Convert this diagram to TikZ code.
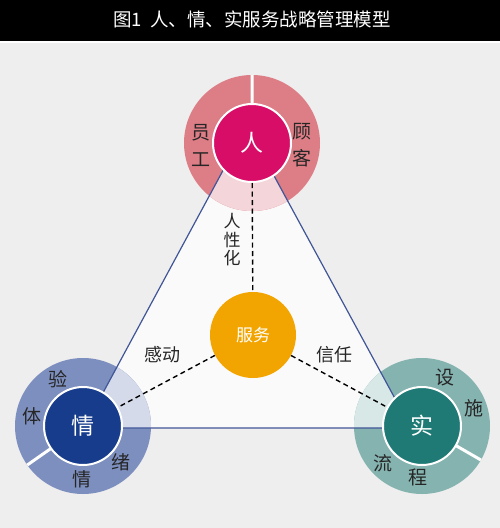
\documentclass[tikz,border=0pt]{standalone}
\usepackage{fontspec}
\setmainfont{Noto Sans CJK SC}
\usetikzlibrary{positioning}
\definecolor{bggray}{HTML}{EEEEEE}
\definecolor{trifill}{HTML}{FAFAFA}
\definecolor{triline}{HTML}{3F5597}
\definecolor{renmain}{HTML}{D80D68}
\definecolor{rendark}{HTML}{DD7D86}
\definecolor{renlight}{HTML}{F4D5D9}
\definecolor{qingmain}{HTML}{173C8C}
\definecolor{qingdark}{HTML}{7D8FBE}
\definecolor{qinglight}{HTML}{D4DAE9}
\definecolor{shimain}{HTML}{1F7A75}
\definecolor{shidark}{HTML}{85B3B0}
\definecolor{shilight}{HTML}{D8E8E7}
\definecolor{fuwuorange}{HTML}{F2A500}
\begin{document}
\begin{tikzpicture}[x=1pt,y=-1pt,
hub/.style={
% inner disc:
circle,draw=white,line width=2pt,
minimum size=78pt,inner sep=0pt,
text=white,font=\fontsize{23}{23}\selectfont
},
ringtxt/.style={font=\fontsize{19}{27}\selectfont,text=black!85,align=center},
side/.style={draw=triline,line width=1.2pt},
link/.style={line width=1.4pt,dash pattern=on 5pt off 3.5pt}
]
\useasboundingbox (0,0) rectangle (500,528);
\fill[bggray] (0,0) rectangle (500,528);
\fill[black] (0,0) rectangle (500,41);
\fill[white] (0,41) rectangle (500,43);
\node[text=white,font=\fontsize{18.5}{18.5}\selectfont] (title) at (252,19) {图1\ \ 人、情、实服务战略管理模型};
% centres and triangle corners:
\coordinate (cRen) at (252,143);
\coordinate (cQing) at (83,426);
\coordinate (cShi) at (422,426);
\coordinate (tTop) at (247,126);
\coordinate (tLeft) at (84,428);
\coordinate (tRight) at (411,428);
\fill[trifill] (tTop) -- (tLeft) -- (tRight) -- cycle;
% rings:
\fill[rendark] (cRen) circle (68pt);
\fill[qingdark] (cQing) circle (68pt);
\fill[shidark] (cShi) circle (68pt);
\begin{scope}
\clip (tTop) -- (tLeft) -- (tRight) -- cycle;
\fill[renlight] (cRen) circle (68pt);
\fill[qinglight] (cQing) circle (68pt);
\fill[shilight] (cShi) circle (68pt);
\end{scope}
\draw[white,line width=3pt] (cRen) -- ++(90:68pt) (cQing) -- ++(215:68pt) (cShi) -- ++(330:68pt);
\draw[side] (tTop) -- (tLeft) -- (tRight) -- cycle;
% discs:
\node[hub,fill=renmain] (ren) at (cRen) {人};
\node[hub,fill=qingmain] (qing) at (cQing) {情};
\node[hub,fill=shimain] (shi) at (cShi) {实};
\node[circle,fill=fuwuorange,minimum size=86pt,inner sep=0pt,text=white,font=\fontsize{17}{17}\selectfont] (fuwu) at (253,335) {服务};
\path (ren) edge[link] (fuwu) (fuwu) edge[link] (qing) (fuwu) edge[link] (shi);
% labels:
\node[ringtxt] (yuangong) at (201,145) {员\\工};
\node[ringtxt] (guke) at (302,145) {顾\\客};
\node[ringtxt,font=\fontsize{17}{18.5}\selectfont] (renxing) at (232,240) {人\\性\\化};
\node[ringtxt,font=\fontsize{18}{18}\selectfont] (gandong) at (162,355) {感动};
\node[ringtxt,font=\fontsize{18}{18}\selectfont] (xinren) at (334,355) {信任};
\node[ringtxt] (yan) at (58,379) {验};
\node[ringtxt] (ti) at (32,416) {体};
\node[ringtxt] (xu) at (121,462) {绪};
\node[ringtxt] (qing2) at (82,479) {情};
\node[ringtxt] (she) at (445,377) {设};
\node[ringtxt] (shiy) at (474,408) {施};
\node[ringtxt] (liu) at (383,463) {流};
\node[ringtxt] (cheng) at (418,477) {程};
\end{tikzpicture}
\end{document}
